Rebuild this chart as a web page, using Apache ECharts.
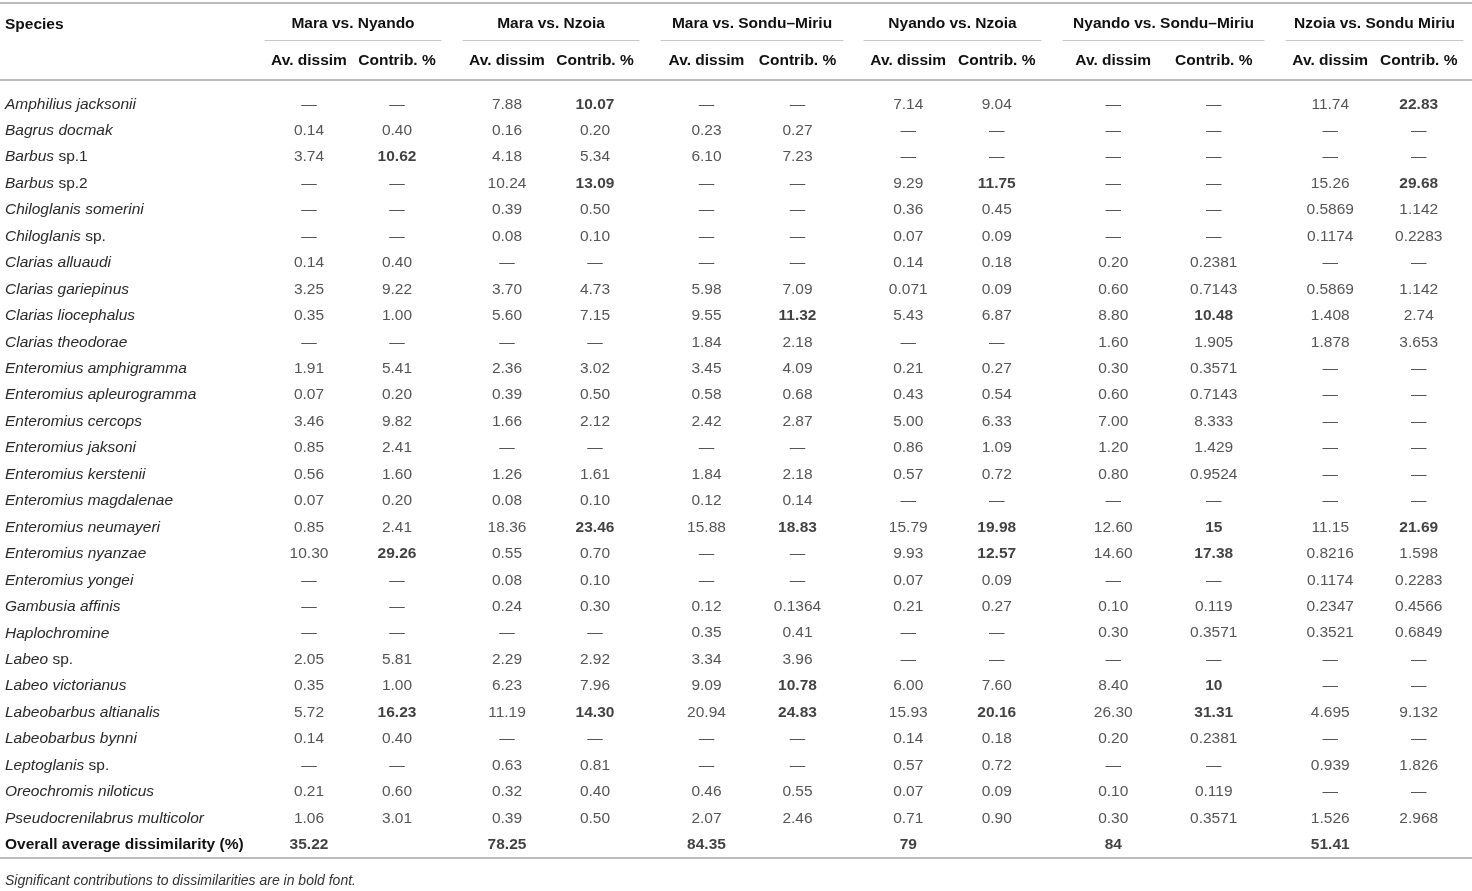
<!DOCTYPE html>
<html lang="en">
<head>
    <meta charset="UTF-8">
    <title>SIMPER dissimilarity table</title>
    <script src="https://cdn.jsdelivr.net/npm/echarts@6/dist/echarts.min.js"></script>
    <style>
        html, body {margin: 0; padding: 0; background: #fff;}
        #main {width: 1472px; height: 891px;}
    </style>
</head>
<body>
    <div id="main"></div>
    <script>
    var D = '—';

    var species = [
        'Amphilius jacksonii', 'Bagrus docmak', 'Barbus sp.1', 'Barbus sp.2',
        'Chiloglanis somerini', 'Chiloglanis sp.', 'Clarias alluaudi', 'Clarias gariepinus',
        'Clarias liocephalus', 'Clarias theodorae', 'Enteromius amphigramma', 'Enteromius apleurogramma',
        'Enteromius cercops', 'Enteromius jaksoni', 'Enteromius kerstenii', 'Enteromius magdalenae',
        'Enteromius neumayeri', 'Enteromius nyanzae', 'Enteromius yongei', 'Gambusia affinis',
        'Haplochromine', 'Labeo sp.', 'Labeo victorianus', 'Labeobarbus altianalis',
        'Labeobarbus bynni', 'Leptoglanis sp.', 'Oreochromis niloticus', 'Pseudocrenilabrus multicolor'
    ];
    var overallLabel = 'Overall average dissimilarity (%)';

    var groups = ['Mara vs. Nyando', 'Mara vs. Nzoia', 'Mara vs. Sondu–Miriu',
                  'Nyando vs. Nzoia', 'Nyando vs. Sondu–Miriu', 'Nzoia vs. Sondu Miriu'];
    var subHeaders = ['Av. dissim', 'Contrib. %'];

    // Mara vs. Nyando
    var maraNyandoDissim = [D,'0.14','3.74',D,D,D,'0.14','3.25','0.35',D,'1.91','0.07','3.46','0.85','0.56','0.07','0.85','10.30',D,D,D,'2.05','0.35','5.72','0.14',D,'0.21','1.06'];
    var maraNyandoContrib = [D,'0.40','10.62',D,D,D,'0.40','9.22','1.00',D,'5.41','0.20','9.82','2.41','1.60','0.20','2.41','29.26',D,D,D,'5.81','1.00','16.23','0.40',D,'0.60','3.01'];
    // Mara vs. Nzoia
    var maraNzoiaDissim = ['7.88','0.16','4.18','10.24','0.39','0.08',D,'3.70','5.60',D,'2.36','0.39','1.66',D,'1.26','0.08','18.36','0.55','0.08','0.24',D,'2.29','6.23','11.19',D,'0.63','0.32','0.39'];
    var maraNzoiaContrib = ['10.07','0.20','5.34','13.09','0.50','0.10',D,'4.73','7.15',D,'3.02','0.50','2.12',D,'1.61','0.10','23.46','0.70','0.10','0.30',D,'2.92','7.96','14.30',D,'0.81','0.40','0.50'];
    // Mara vs. Sondu–Miriu
    var maraSonduDissim = [D,'0.23','6.10',D,D,D,D,'5.98','9.55','1.84','3.45','0.58','2.42',D,'1.84','0.12','15.88',D,D,'0.12','0.35','3.34','9.09','20.94',D,D,'0.46','2.07'];
    var maraSonduContrib = [D,'0.27','7.23',D,D,D,D,'7.09','11.32','2.18','4.09','0.68','2.87',D,'2.18','0.14','18.83',D,D,'0.1364','0.41','3.96','10.78','24.83',D,D,'0.55','2.46'];
    // Nyando vs. Nzoia
    var nyandoNzoiaDissim = ['7.14',D,D,'9.29','0.36','0.07','0.14','0.071','5.43',D,'0.21','0.43','5.00','0.86','0.57',D,'15.79','9.93','0.07','0.21',D,D,'6.00','15.93','0.14','0.57','0.07','0.71'];
    var nyandoNzoiaContrib = ['9.04',D,D,'11.75','0.45','0.09','0.18','0.09','6.87',D,'0.27','0.54','6.33','1.09','0.72',D,'19.98','12.57','0.09','0.27',D,D,'7.60','20.16','0.18','0.72','0.09','0.90'];
    // Nyando vs. Sondu–Miriu
    var nyandoSonduDissim = [D,D,D,D,D,D,'0.20','0.60','8.80','1.60','0.30','0.60','7.00','1.20','0.80',D,'12.60','14.60',D,'0.10','0.30',D,'8.40','26.30','0.20',D,'0.10','0.30'];
    var nyandoSonduContrib = [D,D,D,D,D,D,'0.2381','0.7143','10.48','1.905','0.3571','0.7143','8.333','1.429','0.9524',D,'15','17.38',D,'0.119','0.3571',D,'10','31.31','0.2381',D,'0.119','0.3571'];
    // Nzoia vs. Sondu Miriu
    var nzoiaSonduDissim = ['11.74',D,D,'15.26','0.5869','0.1174',D,'0.5869','1.408','1.878',D,D,D,D,D,D,'11.15','0.8216','0.1174','0.2347','0.3521',D,D,'4.695',D,'0.939',D,'1.526'];
    var nzoiaSonduContrib = ['22.83',D,D,'29.68','1.142','0.2283',D,'1.142','2.74','3.653',D,D,D,D,D,D,'21.69','1.598','0.2283','0.4566','0.6849',D,D,'9.132',D,'1.826',D,'2.968'];

    var overallDissim = ['35.22', '78.25', '84.35', '79', '84', '51.41'];

    // species whose contribution is significant (bold) in each comparison
    var significant = [
        ['Barbus sp.1', 'Enteromius nyanzae', 'Labeobarbus altianalis'],
        ['Amphilius jacksonii', 'Barbus sp.2', 'Enteromius neumayeri', 'Labeobarbus altianalis'],
        ['Clarias liocephalus', 'Enteromius neumayeri', 'Labeo victorianus', 'Labeobarbus altianalis'],
        ['Barbus sp.2', 'Enteromius neumayeri', 'Enteromius nyanzae', 'Labeobarbus altianalis'],
        ['Clarias liocephalus', 'Enteromius neumayeri', 'Enteromius nyanzae', 'Labeo victorianus', 'Labeobarbus altianalis'],
        ['Amphilius jacksonii', 'Barbus sp.2', 'Enteromius neumayeri']
    ];

    var dissimCols = [maraNyandoDissim, maraNzoiaDissim, maraSonduDissim, nyandoNzoiaDissim, nyandoSonduDissim, nzoiaSonduDissim];
    var contribCols = [maraNyandoContrib, maraNzoiaContrib, maraSonduContrib, nyandoNzoiaContrib, nyandoSonduContrib, nzoiaSonduContrib];

    var rows = species.concat([overallLabel]);
    var FONT = 'Liberation Sans, Arial, sans-serif';
    var FS = 15.5;
    var TXT = '#2a2a2a';
    var BOLD = '#111';

    // column group placement (x start, width)
    var groupBox = [[265, 176], [463, 176], [661, 182], [864, 177], [1063, 201], [1286, 177]];
    var gridTop = 91, gridH = 767;

    var myChart = echarts.init(document.getElementById('main'), null, {renderer: 'canvas'});

    var grids = [], xAxes = [], yAxes = [], series = [];
    groups.forEach(function (g, gi) {
        grids.push({left: groupBox[gi][0], width: groupBox[gi][1], top: gridTop, height: gridH});
        xAxes.push({
            type: 'category', gridIndex: gi, data: subHeaders, position: 'top', offset: gridTop - 40,
            name: g, nameLocation: 'middle', nameGap: 8,
            nameTextStyle: {fontFamily: FONT, fontSize: FS, fontWeight: 'bold', color: BOLD},
            axisLine: {lineStyle: {color: '#c8c8c8', width: 1}},
            axisTick: {show: false},
            axisLabel: {inside: true, interval: 0, hideOverlap: false, margin: 13,
                fontFamily: FONT, fontSize: FS, fontWeight: 'bold', color: BOLD},
            splitLine: {show: false}
        });
        yAxes.push({
            type: 'category', gridIndex: gi, data: rows, inverse: true,
            axisLine: {show: false}, axisTick: {show: false}, splitLine: {show: false},
            axisLabel: gi === 0 ? {
                show: true, interval: 0, align: 'left', margin: 260, fontFamily: FONT, fontSize: FS, color: TXT,
                formatter: function (v) {
                    if (v === overallLabel) return '{b|' + v + '}';
                    var m = v.match(/^(.*) (sp\.\d*)$/);
                    if (m) return '{i|' + m[1] + '} {n|' + m[2] + '}';
                    return '{i|' + v + '}';
                },
                rich: {
                    i: {fontFamily: FONT, fontSize: FS, fontStyle: 'italic', color: TXT},
                    n: {fontFamily: FONT, fontSize: FS, color: TXT},
                    b: {fontFamily: FONT, fontSize: FS, fontWeight: 'bold', color: BOLD}
                }
            } : {show: false}
        });

        var data = [];
        species.forEach(function (s, ri) {
            data.push({name: dissimCols[gi][ri], value: [0, ri]});
            var bold = significant[gi].indexOf(s) >= 0;
            data.push({name: contribCols[gi][ri], value: [1, ri],
                label: bold ? {fontWeight: 'bold', color: BOLD} : {}});
        });
        data.push({name: overallDissim[gi], value: [0, species.length],
            label: {fontWeight: 'bold', color: BOLD}});

        series.push({
            type: 'scatter', xAxisIndex: gi, yAxisIndex: gi,
            symbolSize: 1, itemStyle: {color: 'rgba(0,0,0,0)'},
            silent: true,
            label: {show: true, position: 'inside', formatter: '{b}',
                fontFamily: FONT, fontSize: FS, color: TXT},
            labelLayout: {hideOverlap: false},
            data: data
        });
    });

    var option = {
        animation: false,
        backgroundColor: '#fff',
        title: [
            {text: 'Species', left: 0, top: 12,
             textStyle: {fontFamily: FONT, fontSize: FS, fontWeight: 'bold', color: BOLD}},
            {text: 'Significant contributions to dissimilarities are in bold font.', left: 0, top: 869,
             textStyle: {fontFamily: FONT, fontSize: 14, fontStyle: 'italic', fontWeight: 'normal', color: '#333'}}
        ],
        graphic: [
            {type: 'line', shape: {x1: 0, y1: 3, x2: 1472, y2: 3}, style: {stroke: '#bdbdbd', lineWidth: 2}},
            {type: 'line', shape: {x1: 0, y1: 80, x2: 1472, y2: 80}, style: {stroke: '#bdbdbd', lineWidth: 2}},
            {type: 'line', shape: {x1: 0, y1: 858, x2: 1472, y2: 858}, style: {stroke: '#bdbdbd', lineWidth: 2}}
        ],
        grid: grids,
        xAxis: xAxes,
        yAxis: yAxes,
        series: series
    };
    myChart.setOption(option);
    </script>
</body>
</html>
